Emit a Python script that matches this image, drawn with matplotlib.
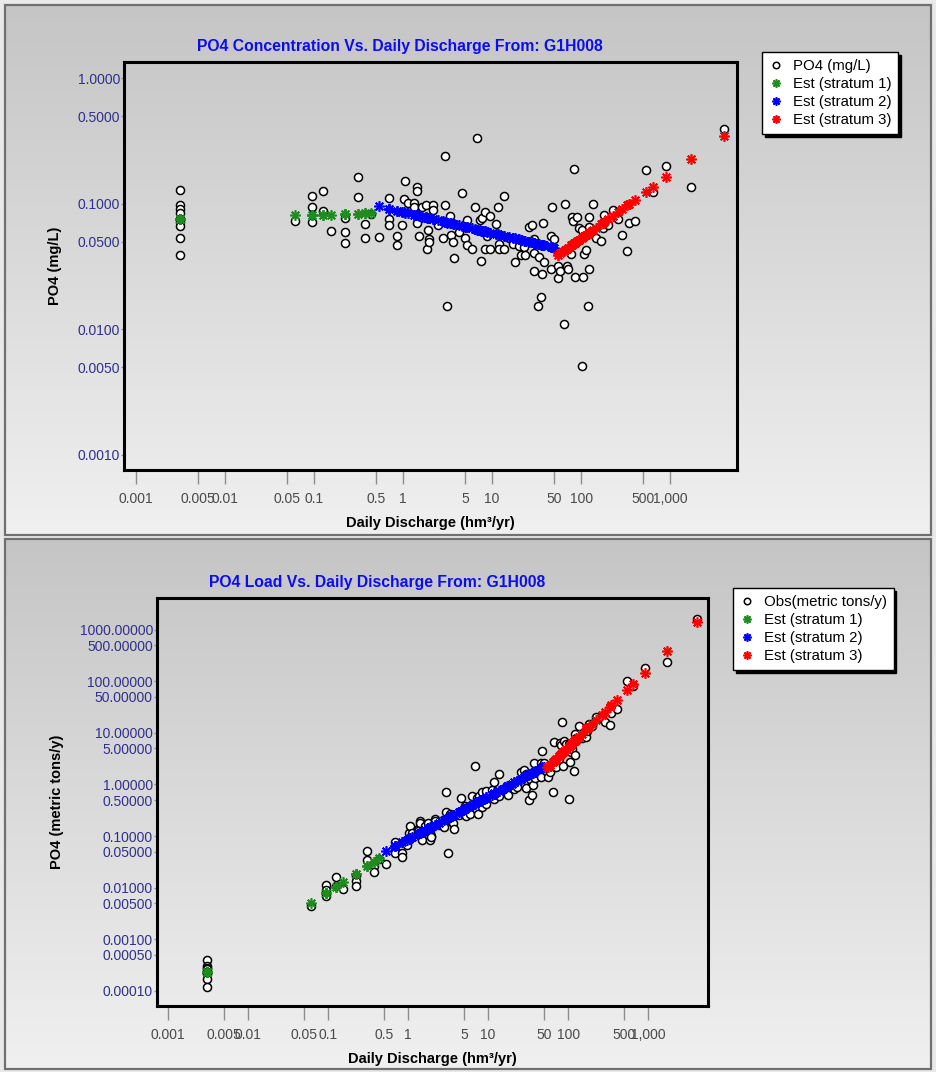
import numpy as np
import matplotlib
matplotlib.use("Agg")
import matplotlib.pyplot as plt
from matplotlib.colors import LinearSegmentedColormap
from matplotlib.patches import Rectangle
from matplotlib.ticker import FixedLocator, FixedFormatter, NullLocator

plt.rcParams['font.family'] = ['Liberation Sans', 'DejaVu Sans']

# ---- data --------------------------------------------------------------
# discharge (hm3/yr), observed PO4 (mg/L) and estimated PO4 (mg/L), per stratum
q_s1 = [0.0031, 0.0031, 0.0031, 0.0031, 0.0031, 0.0031, 0.0031, 0.0031, 0.0031,
        0.0612, 0.0957, 0.0957, 0.0957, 0.125, 0.125, 0.154, 0.223, 0.223, 0.223,
        0.310, 0.310, 0.377, 0.377, 0.434]
obs_s1 = [0.129, 0.098, 0.091, 0.085, 0.076, 0.072, 0.067, 0.0535, 0.039,
          0.0736, 0.116, 0.0935, 0.0719, 0.127, 0.0879, 0.0606, 0.0769, 0.0591, 0.0486,
          0.163, 0.113, 0.0689, 0.0533, 0.0837]
est_s1 = [0.075, 0.075, 0.075, 0.075, 0.075, 0.075, 0.075, 0.075, 0.075,
          0.081, 0.081, 0.081, 0.081, 0.082, 0.082, 0.082, 0.083, 0.083, 0.083,
          0.083, 0.083, 0.084, 0.084, 0.085]

q_s2 = [0.537, 0.690, 0.690, 0.690, 0.850, 0.850, 0.975, 1.03, 1.06, 1.13,
        1.32, 1.32, 1.43, 1.43, 1.43, 1.52, 1.63, 1.80, 1.80, 1.88,
        1.90, 1.95, 1.95, 2.19, 2.19, 2.47, 2.79, 2.96, 2.96, 3.15,
        3.37, 3.49, 3.67, 3.77, 4.29, 4.57, 5.01, 5.20, 5.28, 5.96,
        6.39, 6.78, 7.33, 7.59, 7.73, 8.34, 8.40, 8.85, 9.50, 9.50,
        11.1, 11.7, 11.9, 12.0, 13.6, 13.6, 15.3, 17.2, 17.9, 20.1,
        21.2, 22.9, 23.3, 26.0, 27.7, 29.9, 29.9, 29.9, 32.6, 33.2,
        35.0, 35.9, 37.7, 38.7, 45.7, 46.4, 47.6, 49.7]
obs_s2 = [0.0546, 0.111, 0.0763, 0.0677, 0.0556, 0.0469, 0.0677, 0.109, 0.151, 0.102,
          0.102, 0.0935, 0.135, 0.127, 0.0702, 0.0556, 0.0951, 0.0977, 0.0792, 0.0440,
          0.0613, 0.0523, 0.0498, 0.0977, 0.0896, 0.0672, 0.0536, 0.241, 0.0977, 0.0152,
          0.0802, 0.0566, 0.0498, 0.0369, 0.0591, 0.121, 0.0536, 0.0746, 0.0469, 0.0440,
          0.0935, 0.334, 0.0746, 0.0353, 0.0774, 0.0853, 0.0440, 0.0553, 0.0435, 0.0802,
          0.0693, 0.0935, 0.0480, 0.0435, 0.116, 0.0435, 0.0536, 0.0480, 0.0345, 0.0457,
          0.0390, 0.0452, 0.0390, 0.0659, 0.0677, 0.0529, 0.0405, 0.0291, 0.0152, 0.0380,
          0.0181, 0.0275, 0.0706, 0.0345, 0.0305, 0.0559, 0.0951, 0.0523]
est_s2 = [0.0953, 0.0914, 0.0914, 0.0914, 0.0883, 0.0883, 0.0863, 0.0855, 0.0851, 0.0841,
          0.0820, 0.0820, 0.0810, 0.0810, 0.0810, 0.0800, 0.0791, 0.0778, 0.0778, 0.0773,
          0.0772, 0.0769, 0.0769, 0.0754, 0.0754, 0.0738, 0.0724, 0.0716, 0.0716, 0.0709,
          0.0702, 0.0697, 0.0691, 0.0688, 0.0673, 0.0667, 0.0656, 0.0652, 0.0651, 0.0638,
          0.0630, 0.0624, 0.0616, 0.0612, 0.0611, 0.0603, 0.0602, 0.0597, 0.0590, 0.0590,
          0.0575, 0.0570, 0.0569, 0.0568, 0.0556, 0.0556, 0.0545, 0.0534, 0.0531, 0.0520,
          0.0516, 0.0509, 0.0508, 0.0499, 0.0494, 0.0488, 0.0488, 0.0488, 0.0480, 0.0479,
          0.0474, 0.0472, 0.0469, 0.0467, 0.0454, 0.0453, 0.0451, 0.0448]

q_s3 = [55.2, 55.6, 58.5, 64.4, 66.1, 69.1, 70.9, 77.8, 79.3, 82.0,
        84.1, 86.3, 89.6, 94.4, 101, 101, 105, 108, 112, 119,
        121, 122, 124, 137, 147, 169, 174, 181, 201, 225,
        261, 287, 331, 344, 401, 537, 649, 901, 1720, 4040]
obs_s3 = [0.0321, 0.0256, 0.0292, 0.0111, 0.100, 0.0321, 0.0305, 0.0395, 0.0788, 0.0723,
          0.190, 0.0263, 0.0788, 0.0640, 0.0613, 0.00512, 0.0263, 0.0395, 0.0430, 0.0153,
          0.0783, 0.0303, 0.0648, 0.100, 0.0533, 0.0501, 0.0636, 0.0813, 0.0684, 0.0896,
          0.0755, 0.0569, 0.0422, 0.0706, 0.0723, 0.187, 0.124, 0.200, 0.135, 0.396]
est_s3 = [0.0391, 0.0393, 0.0403, 0.0423, 0.0429, 0.0438, 0.0445, 0.0466, 0.0470, 0.0479,
          0.0485, 0.0491, 0.0501, 0.0514, 0.0532, 0.0532, 0.0542, 0.0551, 0.0561, 0.0578,
          0.0583, 0.0587, 0.0591, 0.0622, 0.0645, 0.0692, 0.0702, 0.0717, 0.0756, 0.0801,
          0.0864, 0.0906, 0.0976, 0.0994, 0.108, 0.125, 0.137, 0.163, 0.226, 0.350]

x_ticks = [0.001, 0.005, 0.01, 0.05, 0.1, 0.5, 1, 5, 10, 50, 100, 500, 1000]
x_labels = ['0.001', '0.005', '0.01', '0.05', '0.1', '0.5', '1', '5', '10',
            '50', '100', '500', '1,000']
conc_ticks = [0.001, 0.005, 0.01, 0.05, 0.1, 0.5, 1.0]
load_ticks = [0.0001, 0.0005, 0.001, 0.005, 0.01, 0.05, 0.1, 0.5, 1, 5, 10,
              50, 100, 500, 1000]

strata = [(q_s1, obs_s1, est_s1, '#1e8c1e', 'Est (stratum 1)'),
          (q_s2, obs_s2, est_s2, '#0000ff', 'Est (stratum 2)'),
          (q_s3, obs_s3, est_s3, '#ff0000', 'Est (stratum 3)')]

# ---- figure ---------------------------------------------------------------
W, H = 936, 1072
fig = plt.figure(figsize=(W / 100, H / 100), dpi=100, facecolor='#e9e9e9')

# panel backgrounds (grey gradient like the original app)
bg = fig.add_axes([0, 0, 1, 1], zorder=-10)
grad = np.linspace(0, 1, 256).reshape(-1, 1)
cmap = LinearSegmentedColormap.from_list('panel', ['#c5c5c5', '#f0f0f0'])
for top, bottom in [(5, 535), (539, 1069)]:
    bg.imshow(grad, extent=(5, 931, bottom, top), cmap=cmap, aspect='auto',
              origin='upper', interpolation='bilinear')
    bg.add_patch(Rectangle((5, top), 926, bottom - top, fill=False,
                           edgecolor='#707070', lw=1.6))
bg.set_xlim(0, W)
bg.set_ylim(H, 0)
bg.axis('off')


def setup_axes(rect_px, ylim, yticks, yfmt, ylabel, ylabel_x):
    left, top, right, bottom = rect_px
    ax = fig.add_axes([left / W, 1 - bottom / H, (right - left) / W, (bottom - top) / H])
    ax.patch.set_alpha(0)
    ax.set_xscale('log')
    ax.set_yscale('log')
    ax.set_xlim(10 ** -3.134, 10 ** 3.75)
    ax.set_ylim(*ylim)
    ax.xaxis.set_major_locator(FixedLocator(x_ticks))
    ax.xaxis.set_major_formatter(FixedFormatter(x_labels))
    ax.yaxis.set_major_locator(FixedLocator(yticks))
    ax.yaxis.set_major_formatter(FixedFormatter([yfmt % v for v in yticks]))
    ax.xaxis.set_minor_locator(NullLocator())
    ax.yaxis.set_minor_locator(NullLocator())
    ax.tick_params(axis='x', direction='out', length=10, width=1, color='#8c8c8c',
                   labelsize=10, labelcolor='#4a4a4a', pad=6)
    ax.tick_params(axis='y', direction='out', length=2.5, width=1, color='#8c8c8c',
                   labelsize=10, labelcolor='#30308c', pad=0.3)
    for sp in ax.spines.values():
        sp.set_linewidth(2.2)
        sp.set_color('black')
    ax.set_xlabel('Daily Discharge (hm³/yr)', fontsize=10.5, fontweight='bold')
    ax.xaxis.label.set_va('center')
    ax.xaxis.set_label_coords(0.5, -53 / (bottom - top))
    ax.set_ylabel(ylabel, fontsize=10.5, fontweight='bold')
    ax.yaxis.label.set_va('center')
    ax.yaxis.set_label_coords((ylabel_x - left) / (right - left), 0.5)
    return ax


def draw(ax, to_value, obs_label, legend_xy):
    q = np.array(q_s1 + q_s2 + q_s3)
    obs = np.array(obs_s1 + obs_s2 + obs_s3)
    handles = []
    h, = ax.plot(q, to_value(q, obs), ls='none', marker='o', ms=5.8, mfc='white',
                 mec='black', mew=1.1, label=obs_label, zorder=3)
    handles.append(h)
    for qs, _, est, col, lab in strata:
        qs = np.array(qs)
        h, = ax.plot(qs, to_value(qs, np.array(est)), ls='none', marker=(8, 2, 0),
                     ms=7.5, mew=1.2, color=col, label=lab, zorder=4)
        handles.append(h)
    leg = ax.legend(handles=handles, loc='upper left',
                    bbox_to_anchor=(legend_xy[0] / W, 1 - legend_xy[1] / H),
                    bbox_transform=fig.transFigure, borderaxespad=0, fontsize=10.8,
                    frameon=True, fancybox=False, framealpha=1, edgecolor='black',
                    shadow={'ox': 2, 'oy': -2, 'shade': 1.0, 'alpha': 1},
                    handlelength=0.9, handletextpad=0.7, labelspacing=0.28,
                    borderpad=0.45, numpoints=1, markerscale=0.8)
    leg.get_frame().set_linewidth(1.0)
    return leg


# top: concentration
ax1 = setup_axes((124, 62, 737, 470), (10 ** -3.121, 10 ** 0.13), conc_ticks, '%.4f',
                 'PO4 (mg/L)', 55)
draw(ax1, lambda q, c: c, 'PO4 (mg/L)', (762, 52))
fig.text(400 / W, 1 - 46 / H, 'PO4 Concentration Vs. Daily Discharge From: G1H008',
         ha='center', va='center', fontsize=11.3, fontweight='bold', color='#0c0cf0')

# bottom: load (mg/L x hm3/yr = metric tons/yr)
ax2 = setup_axes((156.8, 598, 708.4, 1006), (10 ** -4.295, 10 ** 3.616), load_ticks,
                 '%.5f', 'PO4 (metric tons/y)', 57)
draw(ax2, lambda q, c: q * c, 'Obs(metric tons/y)', (733, 588))
fig.text(377 / W, 1 - 582 / H, 'PO4 Load Vs. Daily Discharge From: G1H008',
         ha='center', va='center', fontsize=11.3, fontweight='bold', color='#0c0cf0')

fig.savefig('out.png', dpi=100, facecolor=fig.get_facecolor())
